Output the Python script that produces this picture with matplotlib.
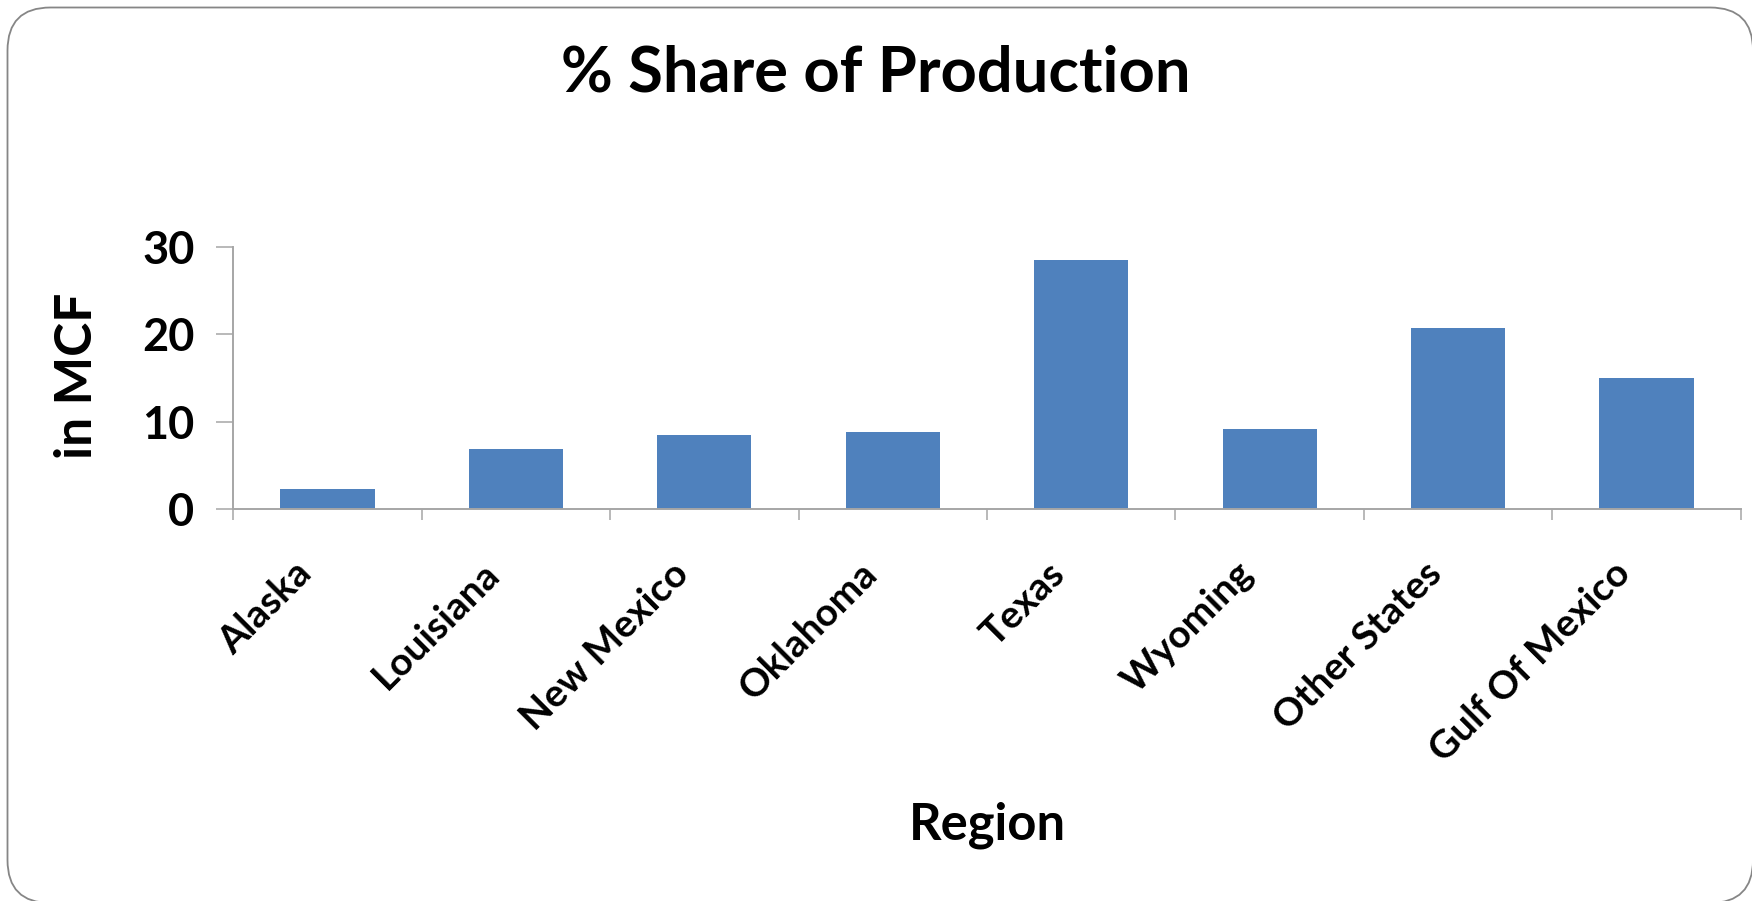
import numpy as np
import matplotlib
matplotlib.use('Agg')
import matplotlib.pyplot as plt
import matplotlib.transforms as mtransforms
from matplotlib.patches import FancyBboxPatch

regions = ['Alaska', 'Louisiana', 'New Mexico', 'Oklahoma', 'Texas',
           'Wyoming', 'Other States', 'Gulf Of Mexico']
share = [2.3, 6.9, 8.5, 8.8, 28.5, 9.2, 20.7, 15.0]
yticks = [0, 10, 20, 30]

plt.rcParams['font.family'] = ['Lato', 'DejaVu Sans']
plt.rcParams['font.weight'] = 'bold'

W, H = 1752, 901
fig = plt.figure(figsize=(W / 100, H / 100), dpi=100)

# rounded frame around the whole chart (pixel coords)
r = 43
frame = FancyBboxPatch((7.5 + r, -2 + r), W - 7.5 + 1 - 2 * r, H - 7.5 + 2 - 2 * r,
                       boxstyle='round,pad=%d' % r, transform=None,
                       facecolor='none', edgecolor='#868686', linewidth=1.3)
fig.patches.append(frame)

ax = fig.add_axes([233.3 / W, 1 - 509.3 / H, (1740.7 - 233.3) / W, (509.3 - 246.7) / H])
x = np.arange(len(regions))
ax.bar(x, share, width=0.5, color='#4F81BD')

ax.set_xlim(-0.5, len(regions) - 0.5)
ax.set_ylim(0, 30)
ax.set_yticks(yticks)

for s in ['top', 'right']:
    ax.spines[s].set_visible(False)
for s in ['left', 'bottom']:
    ax.spines[s].set_color('#a6a6a6')
    ax.spines[s].set_linewidth(1.4)

ax.tick_params(axis='y', length=12, width=1.1, color='#a6a6a6', pad=16,
               labelsize=32.5)
ax.set_xticks(x)
ax.set_xticks(np.arange(-0.5, len(regions)), minor=True)
ax.tick_params(axis='x', which='major', length=0, pad=0)
ax.tick_params(axis='x', which='minor', length=8, width=1.1, color='#a6a6a6',
               direction='out')
ax.set_xticklabels(regions, rotation=45, ha='right', va='center',
                   rotation_mode='anchor', fontsize=28)
shift = mtransforms.ScaledTranslation(-0.22, -0.585, fig.dpi_scale_trans)
for lab in ax.get_xticklabels():
    lab.set_transform(lab.get_transform() + shift)
for lab in ax.get_yticklabels():
    lab.set_fontweight('bold')

fig.text(0.5, 1 - 73 / H, '% Share of Production', ha='center', va='center',
         fontsize=45.5, fontweight='bold')
fig.text(78 / W, 1 - 376 / H, 'in MCF', rotation=90, ha='center', va='center',
         fontsize=37, fontweight='bold')
fig.text(987 / W, 1 - 825 / H, 'Region', ha='center', va='center',
         fontsize=36.5, fontweight='bold')

fig.savefig('out.png', dpi=100)
